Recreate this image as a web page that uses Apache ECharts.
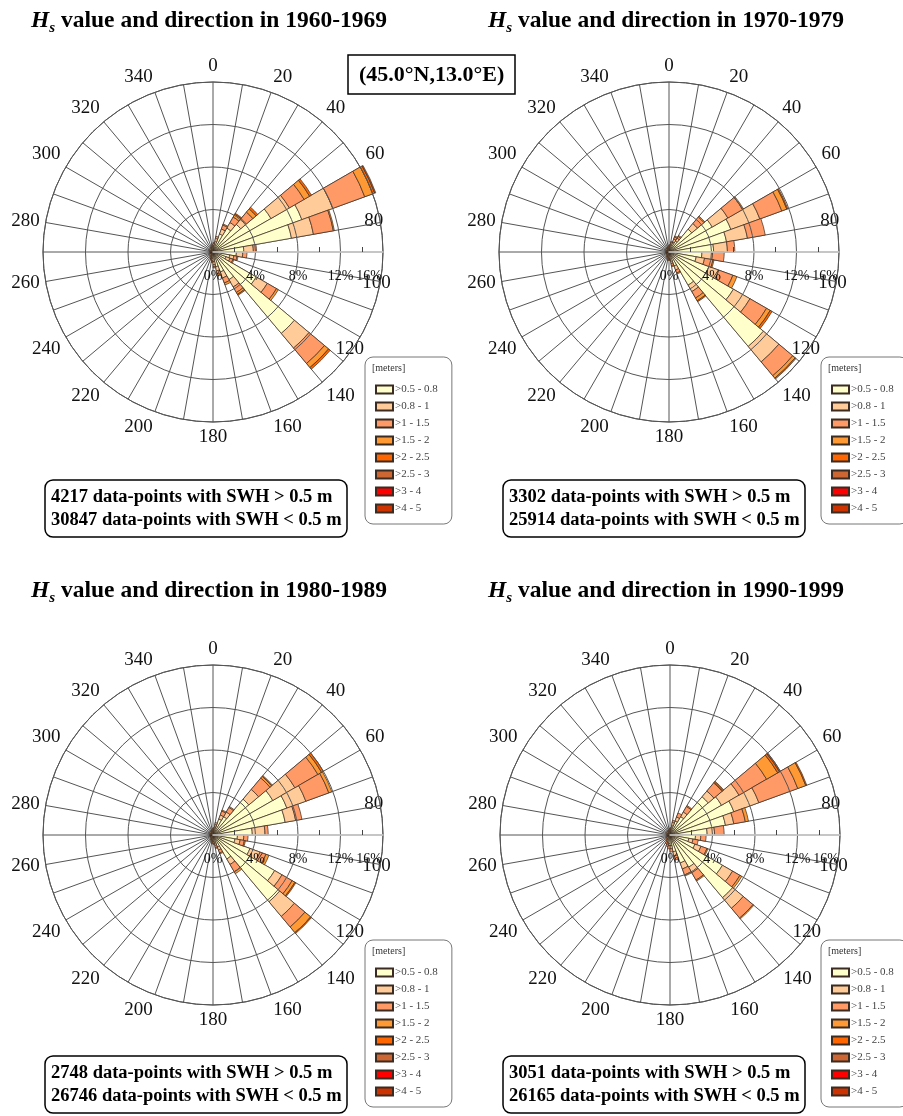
<!DOCTYPE html>
<html>
<head>
<meta charset="utf-8">
<title>Hs value and direction</title>
<script src="https://cdn.jsdelivr.net/npm/echarts@6/dist/echarts.min.js"></script>
<style>
  html, body { margin: 0; padding: 0; background: #fff; }
  #chart { width: 903px; height: 1116px; }
</style>
</head>
<body>
<div id="chart"></div>
<script>
// direction bins (centre of each 10 degree sector)
const directions = ['5', '15', '25', '35', '45', '55', '65', '75', '85', '95', '105', '115',
  '125', '135', '145', '155', '165', '175', '185', '195', '205', '215', '225', '235',
  '245', '255', '265', '275', '285', '295', '305', '315', '325', '335', '345', '355']

const classNames = ['>0.5 - 0.8', '>0.8 - 1', '>1 - 1.5', '>1.5 - 2', '>2 - 2.5', '>2.5 - 3', '>3 - 4', '>4 - 5']
const classColors = ['#ffffcc', '#ffcc99', '#ff9966', '#ff9933', '#ff6600', '#cc6633', '#ff0000', '#cc3300']

const radiusLabels = ['0%', '4%', '8%', '12%', '16%']

// % of data-points per direction bin, one row per bin, one column per class
const rose1960 = [
  [0.6, 0.2, 0.1, 0, 0, 0, 0, 0], [1.0, 0.3, 0.2, 0, 0, 0, 0, 0], [1.8, 0.5, 0.4, 0.1, 0, 0, 0, 0],
  [2.6, 0.6, 0.6, 0.3, 0.1, 0, 0, 0], [3.4, 0.7, 0.8, 0.4, 0.2, 0, 0, 0], [6.3, 2.0, 1.6, 0.6, 0.2, 0, 0, 0],
  [8.9, 3.1, 3.2, 0.8, 0.2, 0.1, 0, 0], [7.5, 2.1, 1.9, 0.1, 0, 0, 0, 0], [2.9, 0.9, 0.3, 0, 0, 0, 0, 0],
  [2.2, 0.6, 0.4, 0, 0, 0, 0, 0], [1.6, 0.4, 0.3, 0.1, 0, 0, 0, 0], [1.3, 0.4, 0.3, 0.1, 0, 0, 0, 0],
  [4.7, 1.2, 1.0, 0.2, 0, 0, 0, 0], [10.0, 1.8, 1.9, 0.5, 0.2, 0, 0, 0], [3.0, 0.8, 0.6, 0.2, 0.1, 0, 0, 0],
  [2.0, 0.6, 0.5, 0.2, 0, 0, 0, 0], [1.4, 0.4, 0.3, 0.2, 0, 0, 0, 0], [0.9, 0.3, 0.2, 0.1, 0, 0, 0, 0],
  [0.6, 0.2, 0.1, 0.1, 0, 0, 0, 0], [0.5, 0.1, 0.1, 0.1, 0, 0, 0, 0], [0.4, 0.1, 0.1, 0, 0, 0, 0, 0],
  [0.3, 0.1, 0.1, 0, 0, 0, 0, 0], [0.3, 0.1, 0, 0, 0, 0, 0, 0], [0.3, 0.1, 0, 0, 0, 0, 0, 0],
  [0.2, 0.1, 0, 0, 0, 0, 0, 0], [0.2, 0.1, 0, 0, 0, 0, 0, 0], [0.2, 0.1, 0, 0, 0, 0, 0, 0],
  [0.2, 0.1, 0, 0, 0, 0, 0, 0], [0.2, 0.1, 0, 0, 0, 0, 0, 0], [0.3, 0.1, 0, 0, 0, 0, 0, 0],
  [0.3, 0.1, 0, 0, 0, 0, 0, 0], [0.3, 0.1, 0, 0, 0, 0, 0, 0], [0.3, 0.1, 0, 0, 0, 0, 0, 0],
  [0.4, 0.1, 0, 0, 0, 0, 0, 0], [0.4, 0.1, 0.1, 0, 0, 0, 0, 0], [0.5, 0.1, 0.1, 0, 0, 0, 0, 0],
]

const rose1970 = [
  [0.5, 0.1, 0.1, 0, 0, 0, 0, 0], [0.7, 0.2, 0.1, 0, 0, 0, 0, 0], [1.0, 0.3, 0.2, 0.1, 0, 0, 0, 0],
  [1.2, 0.3, 0.2, 0.1, 0, 0, 0, 0], [2.8, 0.7, 0.8, 0.1, 0, 0, 0, 0], [4.7, 1.7, 1.6, 0.1, 0, 0, 0, 0],
  [6.2, 2.9, 2.2, 0.5, 0.1, 0, 0, 0], [5.5, 2.0, 1.7, 0, 0, 0, 0, 0], [4.2, 1.3, 0.7, 0, 0, 0, 0, 0],
  [3.1, 1.0, 1.1, 0, 0, 0, 0, 0], [2.6, 0.8, 0.8, 0.1, 0, 0, 0, 0], [4.0, 1.0, 1.4, 0.4, 0, 0, 0, 0],
  [7.0, 1.8, 1.8, 0.4, 0.2, 0, 0, 0], [11.6, 1.9, 1.7, 0.3, 0.1, 0, 0, 0], [3.6, 0.7, 0.7, 0.3, 0.1, 0, 0, 0],
  [1.4, 0.4, 0.3, 0.1, 0, 0, 0, 0], [0.9, 0.2, 0.2, 0.1, 0, 0, 0, 0], [0.6, 0.1, 0.1, 0, 0, 0, 0, 0],
  [0.5, 0.1, 0.1, 0.1, 0, 0, 0, 0], [0.4, 0.1, 0.1, 0, 0, 0, 0, 0], [0.3, 0.1, 0.1, 0, 0, 0, 0, 0],
  [0.3, 0.1, 0, 0, 0, 0, 0, 0], [0.2, 0.1, 0, 0, 0, 0, 0, 0], [0.2, 0.1, 0, 0, 0, 0, 0, 0],
  [0.2, 0.1, 0, 0, 0, 0, 0, 0], [0.2, 0.1, 0, 0, 0, 0, 0, 0], [0.2, 0.1, 0, 0, 0, 0, 0, 0],
  [0.2, 0.1, 0, 0, 0, 0, 0, 0], [0.2, 0.1, 0, 0, 0, 0, 0, 0], [0.2, 0.1, 0, 0, 0, 0, 0, 0],
  [0.3, 0.1, 0, 0, 0, 0, 0, 0], [0.3, 0.1, 0, 0, 0, 0, 0, 0], [0.3, 0.1, 0, 0, 0, 0, 0, 0],
  [0.3, 0.1, 0, 0, 0, 0, 0, 0], [0.4, 0.1, 0, 0, 0, 0, 0, 0], [0.4, 0.1, 0.1, 0, 0, 0, 0, 0],
]

const rose1980 = [
  [0.5, 0.1, 0.1, 0, 0, 0, 0, 0], [0.8, 0.2, 0.2, 0, 0, 0, 0, 0], [1.6, 0.4, 0.4, 0.1, 0, 0, 0, 0],
  [2.0, 0.5, 0.5, 0.1, 0, 0, 0, 0], [4.4, 1.2, 1.4, 0.2, 0.1, 0, 0, 0], [6.5, 2.4, 2.5, 0.4, 0.2, 0, 0, 0],
  [7.4, 1.9, 2.3, 0.3, 0, 0, 0, 0], [6.9, 1.0, 0.6, 0, 0, 0, 0, 0], [3.7, 1.2, 0.3, 0, 0, 0, 0, 0],
  [2.3, 0.6, 0.4, 0, 0, 0, 0, 0], [2.1, 0.5, 0.4, 0.1, 0, 0, 0, 0], [3.7, 1.0, 0.6, 0.3, 0, 0, 0, 0],
  [6.7, 0.8, 1.1, 0.3, 0.1, 0, 0, 0], [8.2, 1.8, 1.3, 0.7, 0.1, 0, 0, 0], [2.6, 0.6, 0.8, 0.2, 0, 0, 0, 0],
  [1.2, 0.3, 0.3, 0.1, 0, 0, 0, 0], [0.8, 0.2, 0.2, 0.1, 0, 0, 0, 0], [0.6, 0.2, 0.1, 0, 0, 0, 0, 0],
  [0.5, 0.1, 0.1, 0.1, 0, 0, 0, 0], [0.4, 0.1, 0.1, 0, 0, 0, 0, 0], [0.3, 0.1, 0.1, 0, 0, 0, 0, 0],
  [0.3, 0.1, 0, 0, 0, 0, 0, 0], [0.2, 0.1, 0, 0, 0, 0, 0, 0], [0.2, 0.1, 0, 0, 0, 0, 0, 0],
  [0.2, 0.1, 0, 0, 0, 0, 0, 0], [0.2, 0.1, 0, 0, 0, 0, 0, 0], [0.2, 0.1, 0, 0, 0, 0, 0, 0],
  [0.2, 0.1, 0, 0, 0, 0, 0, 0], [0.2, 0.1, 0, 0, 0, 0, 0, 0], [0.2, 0.1, 0, 0, 0, 0, 0, 0],
  [0.3, 0.1, 0, 0, 0, 0, 0, 0], [0.3, 0.1, 0, 0, 0, 0, 0, 0], [0.3, 0.1, 0, 0, 0, 0, 0, 0],
  [0.3, 0.1, 0, 0, 0, 0, 0, 0], [0.4, 0.1, 0, 0, 0, 0, 0, 0], [0.4, 0.1, 0.1, 0, 0, 0, 0, 0],
]

const rose1990 = [
  [0.5, 0.1, 0.1, 0, 0, 0, 0, 0], [0.9, 0.3, 0.2, 0, 0, 0, 0, 0], [1.4, 0.4, 0.4, 0, 0, 0, 0, 0],
  [2.0, 0.5, 0.6, 0.1, 0, 0, 0, 0], [4.7, 0.7, 1.0, 0.1, 0.1, 0, 0, 0], [5.6, 1.9, 3.0, 1.2, 0.2, 0.1, 0, 0],
  [6.4, 2.5, 3.9, 0.8, 0.1, 0, 0, 0], [5.3, 0.8, 1.1, 0.3, 0, 0, 0, 0], [3.5, 0.7, 0.9, 0, 0, 0, 0, 0],
  [2.4, 0.5, 0.5, 0, 0, 0, 0, 0], [1.8, 0.4, 0.5, 0, 0, 0, 0, 0], [2.5, 0.6, 0.6, 0.1, 0, 0, 0, 0],
  [5.7, 1.1, 0.8, 0.2, 0, 0, 0, 0], [7.7, 1.3, 1.2, 0.1, 0, 0, 0, 0], [3.5, 0.6, 0.8, 0.1, 0, 0, 0, 0],
  [2.8, 0.6, 0.6, 0.1, 0, 0, 0, 0], [1.6, 0.4, 0.4, 0, 0, 0, 0, 0], [1.0, 0.3, 0.3, 0, 0, 0, 0, 0],
  [0.8, 0.2, 0.3, 0, 0, 0, 0, 0], [0.7, 0.2, 0.2, 0, 0, 0, 0, 0], [0.5, 0.2, 0.2, 0, 0, 0, 0, 0],
  [0.4, 0.1, 0.1, 0, 0, 0, 0, 0], [0.3, 0.1, 0.1, 0, 0, 0, 0, 0], [0.3, 0.1, 0, 0, 0, 0, 0, 0],
  [0.2, 0.1, 0, 0, 0, 0, 0, 0], [0.2, 0.1, 0, 0, 0, 0, 0, 0], [0.2, 0.1, 0, 0, 0, 0, 0, 0],
  [0.2, 0.1, 0, 0, 0, 0, 0, 0], [0.2, 0.1, 0, 0, 0, 0, 0, 0], [0.2, 0.1, 0, 0, 0, 0, 0, 0],
  [0.3, 0.1, 0, 0, 0, 0, 0, 0], [0.3, 0.1, 0, 0, 0, 0, 0, 0], [0.3, 0.1, 0, 0, 0, 0, 0, 0],
  [0.3, 0.1, 0, 0, 0, 0, 0, 0], [0.4, 0.1, 0, 0, 0, 0, 0, 0], [0.4, 0.1, 0.1, 0, 0, 0, 0, 0],
]

const decades = ['1960-1969', '1970-1979', '1980-1989', '1990-1999']
const pointsAbove = [4217, 3302, 2748, 3051]
const pointsBelow = [30847, 25914, 26746, 26165]
const roses = [rose1960, rose1970, rose1980, rose1990]

const serif = '"Liberation Serif", "Times New Roman", serif'

// layout of the four panels
const panels = [
  { cx: 213, cy: 252, titleX: 31, titleY: 6, boxX: 45, boxY: 480, legX: 365, legY: 357 },
  { cx: 669, cy: 252, titleX: 488, titleY: 6, boxX: 503, boxY: 480, legX: 821, legY: 357 },
  { cx: 213, cy: 835, titleX: 31, titleY: 576, boxX: 45, boxY: 1056, legX: 365, legY: 940 },
  { cx: 670, cy: 835, titleX: 488, titleY: 576, boxX: 503, boxY: 1056, legX: 821, legY: 940 },
]

// direction labels that the original pulls in towards the centre (to clear the legend)
const shiftedLabels = { 80: 22, 100: 24, 120: 30 }

const chart = echarts.init(document.getElementById('chart'))

const polar = []
const angleAxis = []
const radiusAxis = []
const series = []
const title = []
const legend = []
const graphic = []

panels.forEach((p, i) => {
  const center = [p.cx, p.cy]
  // polar 2i : bars, polar 2i+1 : grid + labels
  polar.push({ center, radius: 170 }, { center, radius: 170 })

  angleAxis.push(
    {
      polarIndex: 2 * i,
      type: 'category',
      data: directions,
      startAngle: 90,
      clockwise: true,
      boundaryGap: true,
      axisLine: { show: false },
      axisTick: { show: false },
      axisLabel: { show: false },
      splitLine: { show: false },
    },
    {
      // value axis shifted so that 90 sits at east and the radius axis points east
      polarIndex: 2 * i + 1,
      type: 'value',
      min: 90,
      max: 450,
      interval: 10,
      startAngle: 0,
      clockwise: true,
      axisLine: { show: true, lineStyle: { color: '#555', width: 1 } },
      axisTick: { show: false },
      splitLine: { show: true, lineStyle: { color: '#555', width: 1 } },
      axisLabel: {
        margin: 6,
        fontSize: 19,
        fontFamily: serif,
        color: '#111',
        formatter: (v) => {
          if (v % 20 !== 0) return ''
          const deg = v % 360
          return shiftedLabels[deg] ? `{s${deg}|${deg}}` : String(deg)
        },
        rich: {
          s80: { fontSize: 19, fontFamily: serif, color: '#111', padding: [0, 22, 0, -22] },
          s100: { fontSize: 19, fontFamily: serif, color: '#111', padding: [0, 24, 0, -24] },
          s120: { fontSize: 19, fontFamily: serif, color: '#111', padding: [0, 30, 0, -30] },
        },
      },
    },
  )

  radiusAxis.push(
    { polarIndex: 2 * i, type: 'value', min: 0, max: 16, show: false },
    {
      polarIndex: 2 * i + 1,
      type: 'value',
      min: 0,
      max: 16,
      interval: 4,
      z: 3,
      axisLine: { show: true, lineStyle: { color: '#d0d0d0', width: 1.5 } },
      axisTick: { show: false },
      minorTick: { show: true, splitNumber: 2, length: 5, lineStyle: { color: '#444', width: 1 } },
      splitLine: { show: true, lineStyle: { color: '#555', width: 1 } },
      axisLabel: {
        margin: -31,
        showMaxLabel: true,
        showMinLabel: true,
        fontSize: 14,
        fontFamily: serif,
        color: '#111',
        formatter: (v) => {
          const txt = radiusLabels[v / 4]
          return v === 16 ? `{last|${txt}}` : txt
        },
        rich: { last: { fontSize: 14, fontFamily: serif, color: '#111', padding: [0, 28, 0, 0] } },
      },
    },
  )

  classNames.forEach((name, k) => {
    series.push({
      type: 'bar',
      coordinateSystem: 'polar',
      polarIndex: 2 * i,
      name,
      stack: `rose${i}`,
      barCategoryGap: '0%',
      clip: false,
      silent: true,
      itemStyle: { color: classColors[k], borderColor: '#3b2b20', borderWidth: 0.7 },
      data: roses[i].map((row) => (row[k] > 0 ? row[k] : '-')),
    })
  })

  title.push(
    {
      left: p.titleX,
      top: p.titleY,
      padding: 0,
      text: `{h|H}{s|s}{t| value and direction in ${decades[i]}}`,
      textStyle: {
        rich: {
          h: { fontSize: 23.5, fontWeight: 'bold', fontStyle: 'italic', fontFamily: serif, color: '#000', lineHeight: 30, verticalAlign: 'middle' },
          s: { fontSize: 15, fontWeight: 'bold', fontStyle: 'italic', fontFamily: serif, color: '#000', lineHeight: 15, verticalAlign: 'bottom' },
          t: { fontSize: 23.5, fontWeight: 'bold', fontFamily: serif, color: '#000', lineHeight: 30, verticalAlign: 'middle' },
        },
      },
    },
    {
      left: p.boxX,
      top: p.boxY,
      padding: [6, 6, 5, 6],
      borderColor: '#000',
      borderWidth: 1.5,
      borderRadius: 8,
      text: `${pointsAbove[i]} data-points with SWH > 0.5 m\n${pointsBelow[i]} data-points with SWH < 0.5 m`,
      textStyle: { fontSize: 18.5, fontWeight: 'bold', fontFamily: serif, color: '#000', lineHeight: 23 },
    },
  )

  legend.push({
    orient: 'vertical',
    left: p.legX,
    top: p.legY,
    data: classNames,
    selectedMode: false,
    icon: 'rect',
    itemWidth: 17,
    itemHeight: 8,
    itemGap: 6,
    padding: [27, 14, 10, 10],
    borderColor: '#777',
    borderWidth: 1,
    borderRadius: 8,
    textStyle: { fontSize: 11, fontFamily: serif, color: '#444', padding: [0, 0, 0, -3] },
  })

  graphic.push({
    type: 'text',
    left: p.legX + 7,
    top: p.legY + 6,
    style: { text: '[meters]', fontSize: 10, fontFamily: serif, fill: '#333' },
  })
})

title.push({
  left: 348,
  top: 55,
  padding: [9, 11, 8, 11],
  borderColor: '#000',
  borderWidth: 1.5,
  text: '(45.0°N,13.0°E)',
  textStyle: { fontSize: 22, fontWeight: 'bold', fontFamily: serif, color: '#000' },
})

chart.setOption({
  backgroundColor: '#fff',
  animation: false,
  title,
  legend,
  polar,
  angleAxis,
  radiusAxis,
  series,
  graphic,
})
</script>
</body>
</html>
